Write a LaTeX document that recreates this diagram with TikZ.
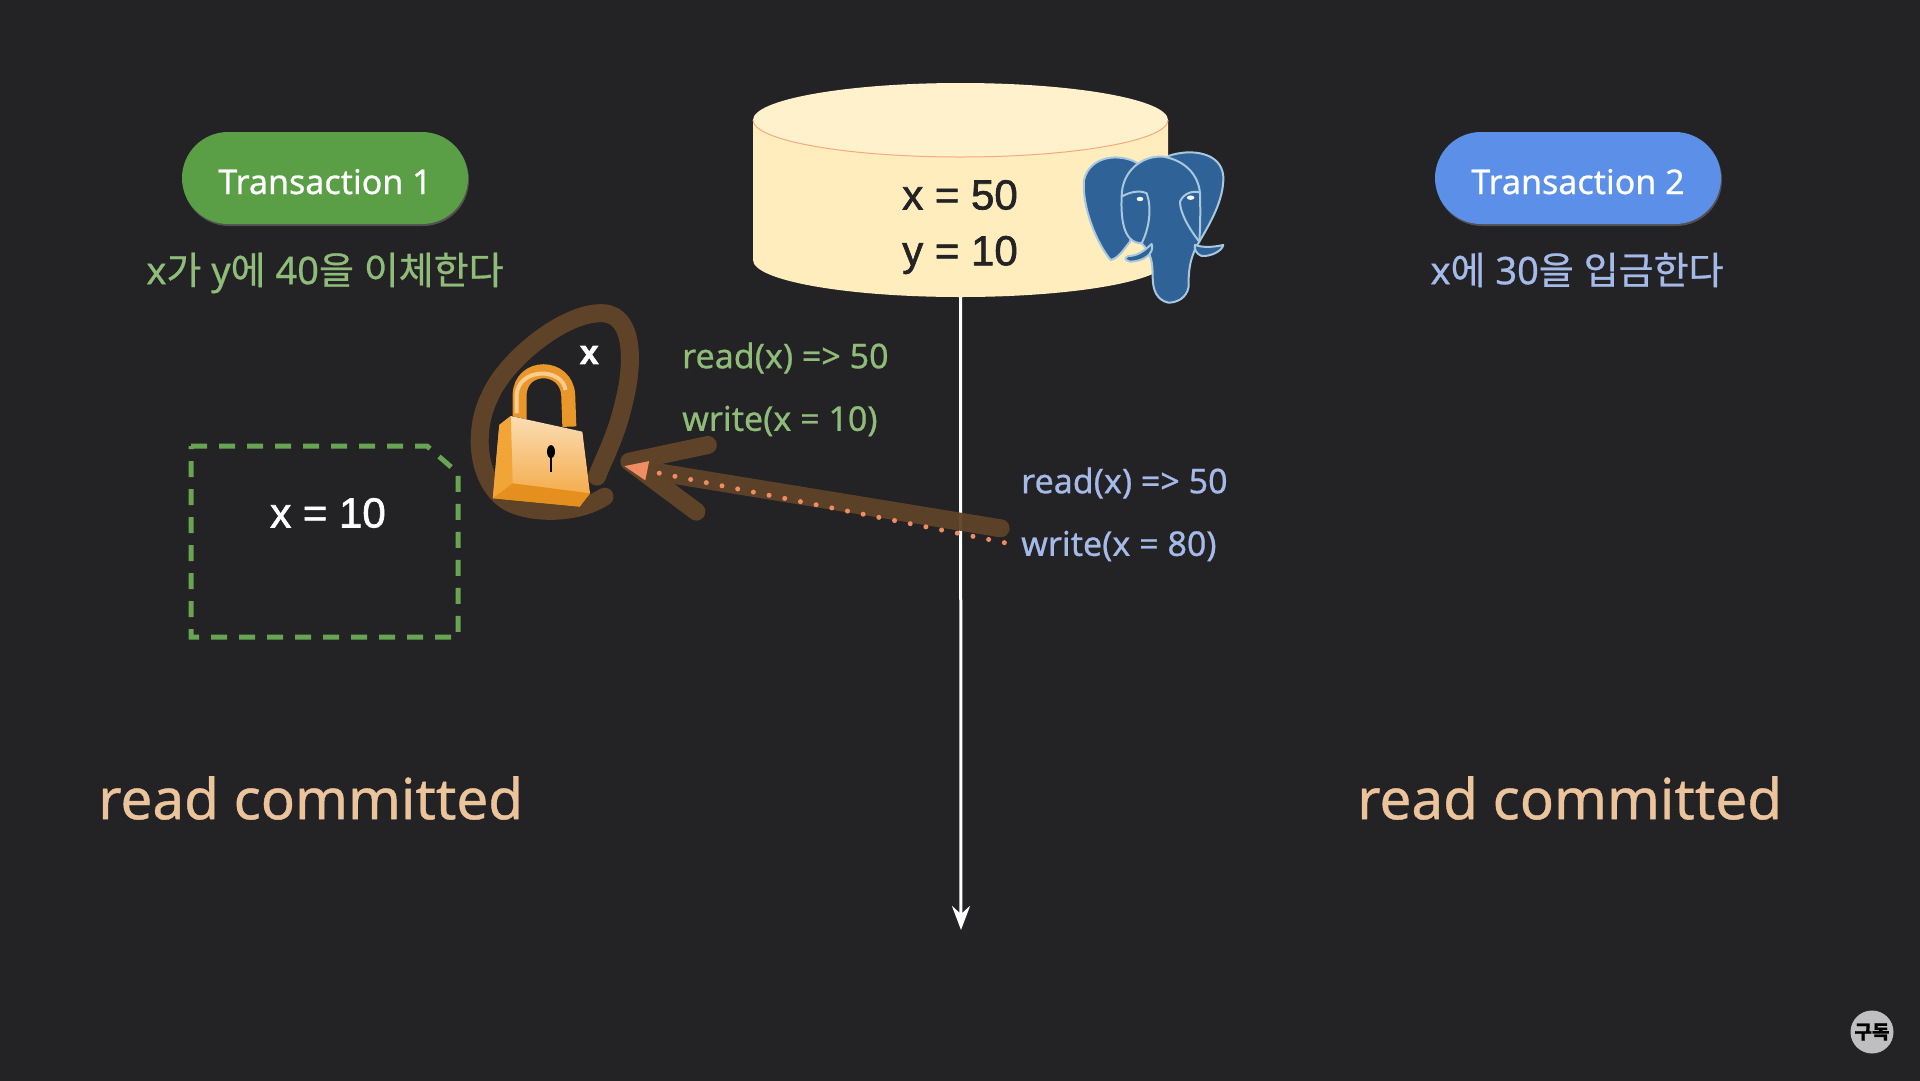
\documentclass[tikz,border=0pt]{standalone}
\usepackage{fontspec}
\setmainfont[FakeBold=0.7]{Noto Sans}
\newfontfamily\krfont[FakeBold=0.7]{Noto Sans CJK KR}
\newfontfamily\arialfont[FakeBold=1.6]{Liberation Sans}
\newcommand{\kr}[1]{{\krfont #1}}
\usetikzlibrary{arrows.meta,shadows}
\definecolor{bgdark}{HTML}{232225}
\definecolor{dbfill}{HTML}{FFEDBE}
\definecolor{dbtop}{HTML}{FFF1CC}
\definecolor{pillgreen}{HTML}{5A9E46}
\definecolor{pillblue}{HTML}{5B8FE8}
\definecolor{txtgreen}{HTML}{8FBC78}
\definecolor{txtblue}{HTML}{A5BAE8}
\definecolor{txtorange}{HTML}{EBC49C}
\definecolor{scratch}{HTML}{5E4329}
\definecolor{dotred}{HTML}{F08C62}
\definecolor{boxgreen}{HTML}{67A552}
\definecolor{elephant}{HTML}{2F6398}
\definecolor{elephantline}{HTML}{A9C8DE}
\definecolor{locktop}{HTML}{FBDDB4}
\definecolor{lockbot}{HTML}{F3A53C}
\definecolor{lockside}{HTML}{F2A436}
\definecolor{lockedge}{HTML}{E58F1E}
\definecolor{lockring}{HTML}{E9972A}
\definecolor{lockshine}{HTML}{F9CD90}
\begin{document}
\begin{tikzpicture}[x=1pt, y=-1pt,
  pill/.style = {rounded corners=46pt, minimum width=286pt, minimum height=92pt, inner sep=0pt, text=white,
    text height=40pt, text depth=8pt,
    font=\fontsize{34}{38}\selectfont, drop shadow={opacity=.5, shadow xshift=1pt, shadow yshift=-2pt}},
  sub/.style = {font=\fontsize{38}{44}\selectfont},
  op/.style = {anchor=west, inner sep=0pt, font=\fontsize{34}{40}\selectfont},
  level/.style = {anchor=west, inner sep=0pt, text=txtorange, font=\fontsize{56.6}{66}\selectfont},
  val/.style = {font=\arialfont\fontsize{42}{48}\selectfont},
  ele/.style = {fill=elephant, draw=elephantline, line width=2pt, line join=round},
  brown/.style = {draw=scratch, line width=18pt, line cap=round, line join=round}]
\useasboundingbox (0,0) rectangle (1920,1080);
\fill[bgdark] (-5,-5) rectangle (1925,1085);

% database
\fill[dbfill] (753,120) -- (753,260) arc[start angle=180, end angle=360, x radius=207.5pt, y radius=37pt] -- (1168,120) -- cycle;
\fill[dbtop] (960.5,120) ellipse[x radius=207.5pt, y radius=37pt];
\draw[dotred!70!dbfill, line width=1pt] (753,120) arc[start angle=180, end angle=360, x radius=207.5pt, y radius=37pt];
\node[minimum width=415pt, minimum height=214pt, inner sep=0pt, outer sep=0pt] (db) at (960.5,190) {};
\node[val, text=bgdark] (x50) at (960,195) {x = 50};
\node[val, text=bgdark] (y10) at (960,255) {y = 10};

% time line
\coordinate (tend) at (961,930);
\draw[white, line width=3pt, -{Stealth[length=24pt, width=18pt, inset=8pt]}] (db.south) -- (tend);

% elephant
\begin{scope}[shift={(1040,130)}, x=.3333pt, y=-.3333pt]
\draw[ele] (385,78) .. controls (450,55) and (545,65) .. (550,140) .. controls (552,210) and (510,280) .. (478,335) -- (400,200) -- cycle;
\draw[ele] (290,98) .. controls (240,70) and (150,75) .. (132,150) .. controls (125,230) and (170,340) .. (212,390) .. controls (235,385) and (250,360) .. (270,335) -- (300,200) -- cycle;
\draw[ele] (245,200) .. controls (245,120) and (310,75) .. (370,80) .. controls (430,90) and (475,130) .. (480,190) .. controls (482,260) and (480,300) .. (478,335) .. controls (450,380) and (445,420) .. (446,470) .. controls (440,505) and (410,518) .. (385,518) .. controls (350,510) and (338,480) .. (338,440) .. controls (338,400) and (335,370) .. (305,340) .. controls (270,340) and (240,310) .. (245,200) -- cycle;
\draw[ele] (335,342) .. controls (345,370) and (310,395) .. (270,395) .. controls (255,390) and (250,385) .. (265,378) .. controls (295,378) and (315,360) .. (335,342) -- cycle;
\draw[ele] (465,345) .. controls (495,355) and (525,350) .. (550,345) .. controls (545,365) and (510,380) .. (485,378) .. controls (470,372) and (462,360) .. (465,345) -- cycle;
\draw[elephantline, line width=2pt] (245,200) .. controls (270,185) and (300,180) .. (320,190) .. controls (335,230) and (330,290) .. (305,340);
\draw[elephantline, line width=2pt] (480,188) .. controls (460,180) and (430,190) .. (420,215) .. controls (420,250) and (450,300) .. (478,335);
\fill[white!90!elephantline] (300,207) ellipse[x radius=3.4pt, y radius=2.2pt];
\fill[white!90!elephantline] (452,203) ellipse[x radius=3.8pt, y radius=2.2pt];
\end{scope}

% transactions
\node[pill, fill=pillgreen] (t1) at (325,178) {Transaction 1};
\node[pill, fill=pillblue] (t2) at (1578,178) {Transaction 2};
\node[sub, text=txtgreen] (job1) at (325,273) {x\kr{가} y\kr{에} 40\kr{을} \kr{이체한다}};
\node[sub, text=txtblue] (job2) at (1577,270) {x\kr{에} 30\kr{을} \kr{입금한다}};

% operations
\node[op, text=txtgreen] (r1) at (682,358) {read(x) => 50};
\node[op, text=txtgreen] (w1) at (682,421) {write(x = 10)};
\node[op, text=txtblue] (r2) at (1021,483) {read(x) => 50};
\node[op, text=txtblue] (w2) at (1021,546) {write(x = 80)};

% copy of x
\draw[boxgreen, line width=5pt, dash pattern=on 16pt off 12pt] (191,446) -- (427,446) -- (458,473) -- (458,637) -- (191,637) -- cycle;
\node[val, text=white] (x10) at (328,513) {x = 10};

\node[level] (lv1) at (98,798) {read committed};
\node[level] (lv2) at (1357,798) {read committed};

% scribbles and lock
\begin{scope}[shift={(440,280)}, x=.3827pt, y=-.3333pt]
\coordinate (tip) at (480,558);
\draw[brown] (430,650) .. controls (350,710) and (220,700) .. (170,660) .. controls (90,590) and (90,440) .. (130,350) .. controls (170,240) and (330,90) .. (430,100) .. controls (510,110) and (505,260) .. (480,370) .. controls (460,470) and (430,530) .. (410,590);
\draw[brown, draw opacity=.95] (1465,745) -- (560,575);
\draw[brown] (700,495) -- (495,545) -- (670,695);
% shackle
\draw[lockring, line width=14pt] (208,420) -- (208,345) .. controls (210,250) and (330,250) .. (335,345) -- (338,440);
\draw[lockshine, line width=4pt] (200,400) -- (200,345) .. controls (205,262) and (320,262) .. (328,330);
% body
\fill[top color=locktop, bottom color=lockbot] (185,408) -- (372,455) -- (392,640) -- (365,680) -- (138,655) -- (155,435) -- cycle;
\fill[lockside] (155,435) -- (185,408) -- (190,610) -- (138,655) -- cycle;
\fill[lockedge] (190,610) -- (392,640) -- (365,680) -- (138,655) -- cycle;
\fill[black] (290,515) ellipse[x radius=4pt, y radius=6.5pt];
\draw[black, line width=1.2pt] (290,520) -- (290,575);
\node[font=\arialfont\bfseries\fontsize{34}{40}\selectfont, text=white] (lockx) at (390,225) {x};
\end{scope}
\draw[dotred, line width=5pt, line cap=round, dash pattern=on 0pt off 16pt, shorten <=17pt,
  -{Triangle[length=24pt, width=18pt]}] (w2.west) -- (tip);

% subscribe badge
\node[circle, fill=black!25, minimum size=43pt, inner sep=0pt, text=black, font=\krfont\bfseries\fontsize{19}{22}\selectfont] (sub) at (1872,1032) {구독};
\end{tikzpicture}
\end{document}
